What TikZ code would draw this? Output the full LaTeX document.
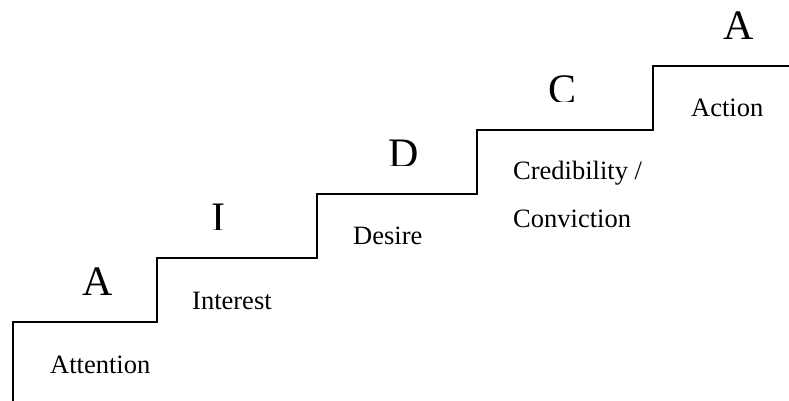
\documentclass[tikz,border=0pt]{standalone}
\usepackage{fontspec}
\setmainfont{Liberation Serif}
\usetikzlibrary{calc}

\begin{document}
\begin{tikzpicture}[x=1pt,y=1pt,
    stair/.style={line width=1.8pt},
    letter/.style={anchor=base, inner sep=0pt, font=\fontsize{42}{48}\selectfont},
    stage/.style={anchor=base west, inner sep=0pt, font=\fontsize{26.5}{32}\selectfont}]

    \useasboundingbox (0,0) rectangle (789,401);

    % the stairs
    \draw[stair] (13,0) -- (13,79) -- (157,79) -- (157,143) -- (317,143) -- (317,207)
        -- (477,207) -- (477,271) -- (653,271) -- (653,335) -- (789,335);

    % big letters (I, D and C are cut at the bottom)
    \node (A1) [letter] at (98,105) {A};
    \begin{scope}
        \clip (170,171) rectangle (270,240);
        \node (I) [letter] at (218,169) {I};
    \end{scope}
    \begin{scope}
        \clip (350,235) rectangle (460,300);
        \node (D) [letter] at (404,233) {D};
    \end{scope}
    \begin{scope}
        \clip (510,299) rectangle (620,360);
        \node (C) [letter] at (562,297) {C};
    \end{scope}
    \node (A2) [letter] at (739,361) {A};

    % stage names
    \node (att) [stage] at (50,27) {Attention};
    \node (int) [stage] at (192,91) {Interest};
    \node (des) [stage] at (353,156) {Desire};
    \node (cred) [stage] at (513,221) {Credibility /};
    \node (conv) [stage] at (513,173) {Conviction};
    \node (act) [stage] at (691,284) {Action};

\end{tikzpicture}
\end{document}
